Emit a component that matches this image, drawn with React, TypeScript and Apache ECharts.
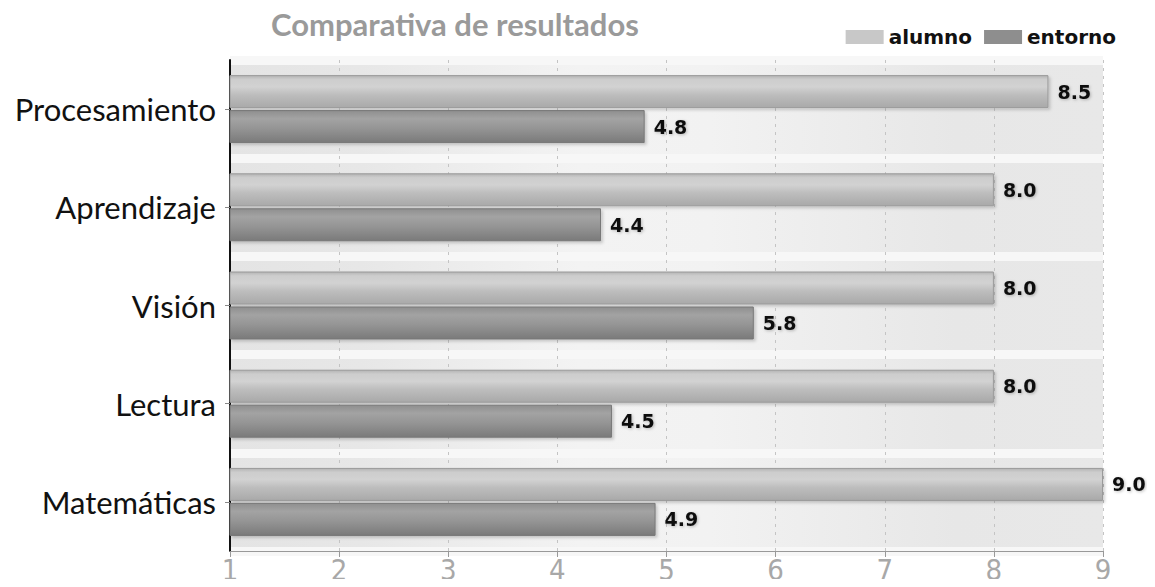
import React, { useEffect, useRef } from "react";
import * as echarts from "echarts";

// Categories listed top to bottom
const categories = ["Procesamiento", "Aprendizaje", "Visión", "Lectura", "Matemáticas"];
const alumno = [8.5, 8.0, 8.0, 8.0, 9.0];
const entorno = [4.8, 4.4, 5.8, 4.5, 4.9];
const xTicks = [1, 2, 3, 4, 5, 6, 7, 8, 9];

const barGradient = (stops: [number, string][]) =>
  new echarts.graphic.LinearGradient(
    0, 0, 0, 1,
    stops.map(([offset, color]) => ({ offset, color }))
  );

export default function App() {
  const ref = useRef<HTMLDivElement>(null);

  useEffect(() => {
    if (!ref.current) return;
    const chart = echarts.init(ref.current, undefined, { renderer: "svg" });

    const valueLabel = {
      show: true,
      position: "right" as const,
      distance: 9,
      formatter: (p: any) => Number(p.value).toFixed(1),
      color: "#111",
      fontFamily: "DejaVu Sans",
      fontWeight: "bold" as const,
      fontSize: 19,
      textShadowColor: "rgba(0,0,0,0.25)",
      textShadowBlur: 3,
      textShadowOffsetX: 1,
      textShadowOffsetY: 1,
    };

    chart.setOption({
      animation: false,
      title: {
        text: "Comparativa de resultados",
        left: 266,
        top: 3,
        textStyle: {
          color: "#9a9a9a",
          fontFamily: "Lato",
          fontWeight: "bold",
          fontSize: 31,
        },
      },
      legend: {
        right: 34,
        top: 22,
        itemWidth: 38,
        itemHeight: 14,
        itemGap: 12,
        icon: "rect",
        textStyle: {
          color: "#111",
          fontFamily: "DejaVu Sans",
          fontWeight: "bold",
          fontSize: 20,
        },
        data: [
          { name: "alumno", itemStyle: { color: "#c8c8c8", borderWidth: 0 } },
          { name: "entorno", itemStyle: { color: "#8e8e8e", borderWidth: 0 } },
        ],
      },
      grid: {
        left: 230,
        right: 52,
        top: 60,
        bottom: 36,
        show: true,
        borderWidth: 0,
        backgroundColor: new echarts.graphic.LinearGradient(1, 0, 0, 0, [
          { offset: 0, color: "#e8e8e8" },
          { offset: 0.17, color: "#e7e7e7" },
          { offset: 0.45, color: "#f2f2f2" },
          { offset: 0.6, color: "#f3f3f3" },
          { offset: 0.85, color: "#e7e7e7" },
          { offset: 1, color: "#e4e4e4" },
        ]),
      },
      xAxis: {
        type: "value",
        min: xTicks[0],
        max: xTicks[xTicks.length - 1],
        interval: 1,
        axisLine: { show: true, lineStyle: { color: "#999", width: 1 } },
        axisTick: { show: true, length: 6, lineStyle: { color: "#999" } },
        axisLabel: {
          color: "#a8a8a8",
          fontFamily: "Liberation Sans Narrow, DejaVu Sans Condensed, sans-serif",
          fontSize: 29,
          margin: 4,
        },
        splitLine: {
          show: true,
          lineStyle: { color: "#c4c4c4", type: [3, 5], width: 1 },
        },
      },
      yAxis: {
        type: "category",
        inverse: true,
        data: categories,
        axisLine: { show: true, lineStyle: { color: "#111", width: 2 } },
        axisTick: { show: true, alignWithLabel: true, length: 5, lineStyle: { color: "#888" } },
        axisLabel: {
          color: "#111",
          fontFamily: "Lato",
          fontSize: 31,
          margin: 14,
        },
        splitLine: {
          show: true,
          lineStyle: { color: "#f7f7f7", width: 9 },
        },
      },
      series: [
        {
          name: "alumno",
          type: "bar",
          data: alumno,
          barWidth: 33,
          barGap: "6%",
          itemStyle: {
            color: barGradient([
              [0, "#b4b4b4"],
              [0.12, "#cdcdcd"],
              [0.35, "#d2d2d2"],
              [0.6, "#bdbdbd"],
              [1, "#a9a9a9"],
            ]),
            borderColor: "#9a9a9a",
            borderWidth: 1,
            shadowColor: "rgba(0,0,0,0.18)",
            shadowBlur: 3,
            shadowOffsetX: 2,
            shadowOffsetY: 2,
          },
          label: valueLabel,
        },
        {
          name: "entorno",
          type: "bar",
          data: entorno,
          barWidth: 33,
          itemStyle: {
            color: barGradient([
              [0, "#8f8f8f"],
              [0.25, "#a3a3a3"],
              [0.55, "#959595"],
              [1, "#7a7a7a"],
            ]),
            borderColor: "#777",
            borderWidth: 1,
            shadowColor: "rgba(0,0,0,0.18)",
            shadowBlur: 3,
            shadowOffsetX: 2,
            shadowOffsetY: 2,
          },
          label: valueLabel,
        },
      ],
    });

    return () => chart.dispose();
  }, []);

  return <div ref={ref} style={{ width: 1155, height: 587, margin: -8 }} />;
}
